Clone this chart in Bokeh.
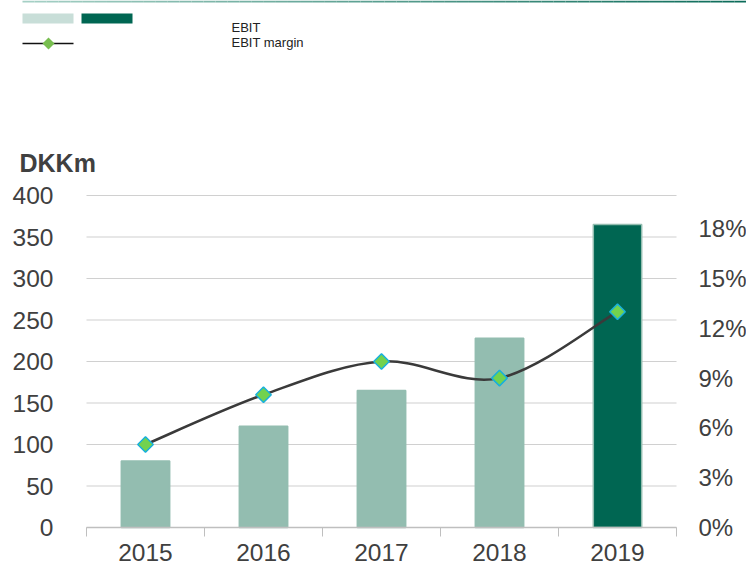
import numpy as np
from bokeh.plotting import figure
from bokeh.models import Range1d, LinearAxis, FixedTicker, NumeralTickFormatter
from bokeh.core.properties import value
from bokeh.embed import file_html
from bokeh.resources import INLINE

# ---------------- data ----------------
years = ["2015", "2016", "2017", "2018", "2019"]
ebit = [80, 122, 165, 228, 365]
ebit_margin = [0.05, 0.08, 0.10, 0.09, 0.13]
left_ticks = [0, 50, 100, 150, 200, 250, 300, 350, 400]
right_ticks = [0.0, 0.03, 0.06, 0.09, 0.12, 0.15, 0.18]
unit_label = "DKKm"
legend_labels = ["EBIT", "EBIT margin"]

# ---------------- style ----------------
FONT = "Liberation Sans"
TXT = "#404040"
LIGHT = "#93bdb0"
DARK = "#006652"
PALE = "#c8ded8"
W, H = 746, 564

# pixel layout of the plotting area (canvas coordinates)
FR_L, FR_R, FR_T, FR_B = 86, 676, 195, 527
Y_MAX = 400
PCT_MAX = 0.2
n_cat = len(years)
sx = (FR_R - FR_L) / n_cat
sy = (FR_B - FR_T) / Y_MAX


def X(px):
    return (px - FR_L) / sx


def Y(py):
    return (FR_B - py) / sy


p = figure(width=W, height=H,
           x_range=Range1d(X(0), X(W)),
           y_range=Range1d(Y(H), Y(0)),
           output_backend="svg", toolbar_location=None, min_border=0)
p.extra_y_ranges = {"pct": Range1d(Y(H) * PCT_MAX / Y_MAX, Y(0) * PCT_MAX / Y_MAX)}
p.outline_line_color = None
p.xgrid.visible = False
p.ygrid.visible = False

# ---- header: gradient rule, legend, unit label ----
n = 60
xs = np.linspace(X(22), X(W), n + 1)
c0 = np.array([165, 208, 197])
c1 = np.array([12, 108, 90])
cols = []
for i in range(n):
    t = i / (n - 1)
    c = (c0 * (1 - t) + c1 * t).astype(int)
    cols.append("#%02x%02x%02x" % tuple(c))
p.segment(x0=xs[:-1], y0=[Y(1)] * n, x1=xs[1:], y1=[Y(1)] * n, line_color=cols, line_width=2)

p.quad(left=[X(22), X(81)], right=[X(73), X(132)], top=[Y(13), Y(13)], bottom=[Y(23), Y(23)],
       fill_color=[PALE, DARK], line_color=None)
p.line([X(22), X(73)], [Y(43), Y(43)], line_color="#111111", line_width=1.3)
p.scatter([X(48)], [Y(43)], marker="square", angle=np.pi / 4, size=8.5,
          fill_color="#78be50", line_color=None)
p.text(x=[X(231), X(231)], y=[Y(27), Y(42)], text=legend_labels, text_font=value(FONT),
       text_font_size="13px", text_color="#222222", text_baseline="alphabetic")

p.text(x=[X(19)], y=[Y(162)], text=[unit_label], text_font=value(FONT), text_font_size="25px",
       text_font_style="bold", text_color=TXT, text_baseline="alphabetic")

# ---- gridlines ----
p.segment(x0=[0] * len(left_ticks), x1=[n_cat] * len(left_ticks), y0=left_ticks, y1=left_ticks,
          line_color="#d0d0d0", line_width=1.2)

# ---- bars ----
xc = [i + 0.5 for i in range(n_cat)]
bar_fill = [LIGHT] * (n_cat - 1) + [DARK]
bar_line = [LIGHT] * n_cat
p.vbar(x=xc, top=ebit, width=0.41, fill_color=bar_fill, line_color=bar_line, line_width=1.5)

# ---- smooth margin line (Catmull-Rom -> Bezier) ----
P = list(zip(xc, ebit_margin))
x0s, y0s, x1s, y1s, cx0, cy0, cx1, cy1 = ([] for _ in range(8))
for i in range(len(P) - 1):
    pa = P[i - 1] if i > 0 else P[i]
    p1 = P[i]
    p2 = P[i + 1]
    pb = P[i + 2] if i + 2 < len(P) else P[i + 1]
    x0s.append(p1[0]); y0s.append(p1[1])
    x1s.append(p2[0]); y1s.append(p2[1])
    cx0.append(p1[0] + (p2[0] - pa[0]) / 6); cy0.append(p1[1] + (p2[1] - pa[1]) / 6)
    cx1.append(p2[0] - (pb[0] - p1[0]) / 6); cy1.append(p2[1] - (pb[1] - p1[1]) / 6)
p.bezier(x0=x0s, y0=y0s, x1=x1s, y1=y1s, cx0=cx0, cy0=cy0, cx1=cx1, cy1=cy1,
         line_color="#3a3a3a", line_width=2.5, y_range_name="pct")
p.scatter(xc, ebit_margin, y_range_name="pct", marker="square", angle=np.pi / 4, size=11,
          fill_color="#72d24f", line_color="#18b0dc", line_width=1.5)

# ---- x axis ----
xa = p.xaxis[0]
xa.fixed_location = 0
xa.bounds = (0, n_cat)
xa.ticker = FixedTicker(ticks=xc, minor_ticks=list(range(n_cat + 1)))
xa.major_label_overrides = {float(c): y for c, y in zip(xc, years)}
xa.major_tick_line_color = None
xa.major_tick_out = 0
xa.major_tick_in = 0
xa.minor_tick_line_color = "#bfbfbf"
xa.minor_tick_in = 0
xa.minor_tick_out = 9
xa.axis_line_color = "#bfbfbf"
xa.axis_line_width = 1.5
xa.major_label_text_font = FONT
xa.major_label_text_font_size = "24.5px"
xa.major_label_text_color = TXT
xa.major_label_standoff = 7

# ---- left axis ----
ya = p.yaxis[0]
ya.fixed_location = 0
ya.bounds = (0, Y_MAX)
ya.ticker = FixedTicker(ticks=left_ticks)
ya.axis_line_color = None
ya.major_tick_line_color = None
ya.major_tick_out = 0
ya.major_tick_in = 0
ya.minor_tick_line_color = None
ya.major_label_standoff = 33
ya.major_label_text_font = FONT
ya.major_label_text_font_size = "24.5px"
ya.major_label_text_color = TXT

# ---- right axis ----
ra = LinearAxis(y_range_name="pct", ticker=FixedTicker(ticks=right_ticks),
                formatter=NumeralTickFormatter(format="0%"), fixed_location=n_cat,
                bounds=(0, PCT_MAX))
ra.axis_line_color = None
ra.major_tick_line_color = None
ra.major_tick_out = 0
ra.major_tick_in = 0
ra.minor_tick_line_color = None
ra.major_label_standoff = 22
ra.major_label_text_font = FONT
ra.major_label_text_font_size = "24px"
ra.major_label_text_color = TXT
p.add_layout(ra, "right")

open("out.html", "w").write(file_html(p, INLINE))
